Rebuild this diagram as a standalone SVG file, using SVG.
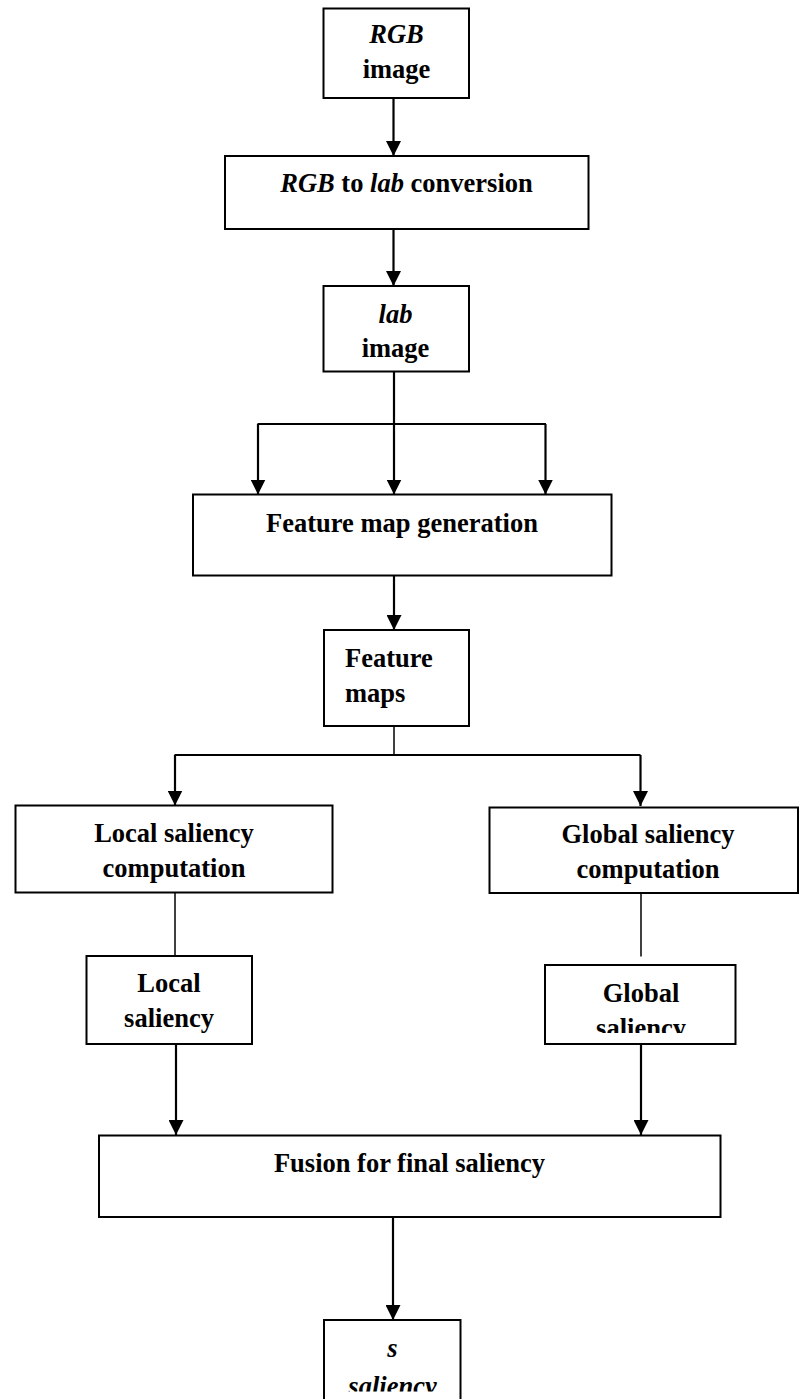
<svg xmlns="http://www.w3.org/2000/svg" width="799" height="1399" viewBox="0 0 799 1399">
<style>
.box{fill:#fff;stroke:#000;stroke-width:2}
.t{font-family:"Liberation Serif","Times New Roman",serif;font-weight:bold;font-size:26.5px;fill:#000;text-anchor:middle}
.i{font-style:italic}
.l{text-anchor:start}
.a{stroke:#000;stroke-width:2.2;fill:none;marker-end:url(#ah)}
.p{stroke:#000;stroke-width:2.2;fill:none}
.n{stroke:#000;stroke-width:1.5;fill:none}
</style>
<defs>
<marker id="ah" markerUnits="userSpaceOnUse" markerWidth="15" markerHeight="15" viewBox="0 0 15 15" refX="15" refY="7.5" orient="auto">
<path d="M0,0 L15,7.5 L0,15 z" fill="#000"/>
</marker>
<clipPath id="cg"><rect x="545" y="965" width="191" height="68"/></clipPath>
<clipPath id="cs"><rect x="324" y="1320" width="137" height="71.5"/></clipPath>
</defs>
<rect width="799" height="1399" fill="#fff"/>
<g id="connectors">
<line class="a" x1="393.5" y1="98" x2="393.5" y2="156"/>
<line class="a" x1="393.5" y1="229" x2="393.5" y2="286"/>
<line class="p" x1="394" y1="372" x2="394" y2="424"/>
<line class="p" x1="257.5" y1="424" x2="546" y2="424"/>
<line class="a" x1="258" y1="424" x2="258" y2="494.5"/>
<line class="a" x1="394" y1="424" x2="394" y2="494.5"/>
<line class="a" x1="545.5" y1="424" x2="545.5" y2="494.5"/>
<line class="a" x1="394" y1="575" x2="394" y2="630"/>
<line class="n" x1="394" y1="726" x2="394" y2="755"/>
<line class="p" x1="174.5" y1="755" x2="640.5" y2="755"/>
<line class="a" x1="175" y1="755" x2="175" y2="805.5"/>
<line class="a" x1="640.5" y1="755" x2="640.5" y2="806"/>
<line class="n" x1="175" y1="893" x2="175" y2="956"/>
<line class="n" x1="641" y1="893" x2="641" y2="956.5"/>
<line class="a" x1="176" y1="1044" x2="176" y2="1135"/>
<line class="a" x1="641" y1="1044" x2="641" y2="1135"/>
<line class="a" x1="393" y1="1217" x2="393" y2="1320"/>
</g>
<g id="rgb-image">
<rect class="box" x="323.5" y="8.5" width="145.5" height="89.5"/>
<text class="t i" x="396.5" y="43">RGB</text>
<text class="t" x="396.5" y="77.5">image</text>
</g>
<g id="rgb-to-lab">
<rect class="box" x="225" y="156" width="363.5" height="73"/>
<text class="t" x="406.5" y="191.5"><tspan class="i">RGB</tspan> to <tspan class="i">lab</tspan> conversion</text>
</g>
<g id="lab-image">
<rect class="box" x="323.5" y="286" width="145.5" height="85.5"/>
<text class="t i" x="395.5" y="322.5">lab</text>
<text class="t" x="395.5" y="357">image</text>
</g>
<g id="feature-map-generation">
<rect class="box" x="193" y="494.5" width="418.5" height="81"/>
<text class="t" x="402" y="531.5">Feature map generation</text>
</g>
<g id="feature-maps">
<rect class="box" x="324" y="630" width="145" height="96"/>
<text class="t l" x="345" y="667">Feature</text>
<text class="t l" x="345" y="701.5">maps</text>
</g>
<g id="local-computation">
<rect class="box" x="15.5" y="805.5" width="317" height="87"/>
<text class="t" x="174" y="841.5">Local saliency</text>
<text class="t" x="174" y="876.5">computation</text>
</g>
<g id="global-computation">
<rect class="box" x="489.5" y="807.5" width="308.5" height="85.5"/>
<text class="t" x="648" y="842.5">Global saliency</text>
<text class="t" x="648" y="878">computation</text>
</g>
<g id="local-saliency">
<rect class="box" x="86.5" y="956" width="165.5" height="88"/>
<text class="t" x="169" y="991.5">Local</text>
<text class="t" x="169" y="1026.5">saliency</text>
</g>
<g id="global-saliency">
<rect class="box" x="545" y="965" width="190.5" height="79"/>
<text class="t" x="641" y="1001.5">Global</text>
<text class="t" x="641" y="1037" clip-path="url(#cg)">saliency</text>
</g>
<g id="fusion">
<rect class="box" x="99" y="1135.5" width="621.5" height="81.5"/>
<text class="t" x="409.5" y="1171.5">Fusion for final saliency</text>
</g>
<g id="s-saliency">
<rect class="box" x="324" y="1320" width="136.5" height="85"/>
<text class="t i" x="392.5" y="1356.5">s</text>
<text class="t i" x="392.5" y="1395" clip-path="url(#cs)">saliency</text>
</g>
</svg>
